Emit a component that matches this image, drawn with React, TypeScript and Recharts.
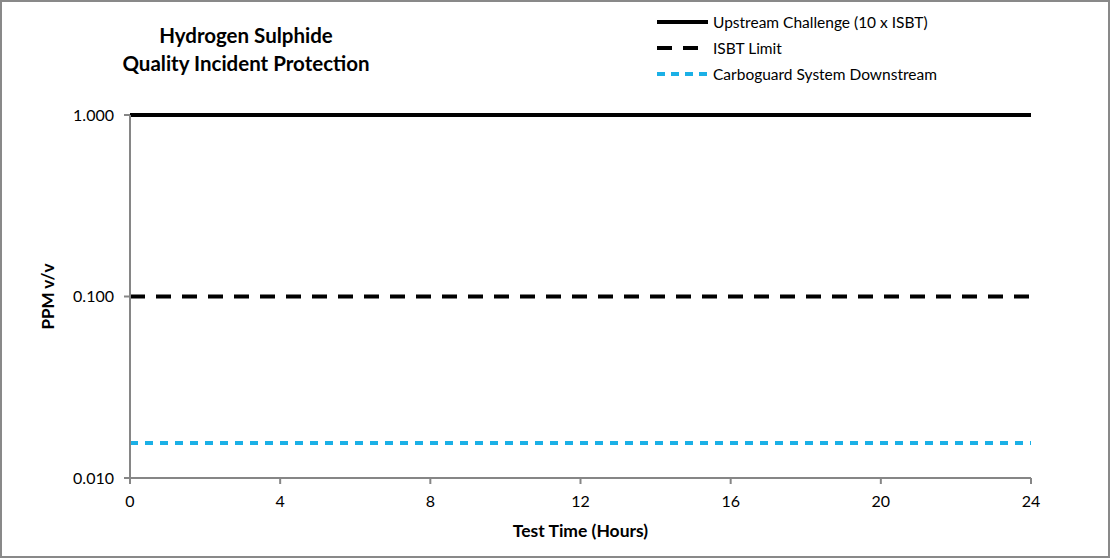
import React from "react";
import { LineChart, Line, XAxis, YAxis } from "recharts";

const hours = [0, 4, 8, 12, 16, 20, 24];
const upstream = [1, 1, 1, 1, 1, 1, 1];
const isbtLimit = [0.1, 0.1, 0.1, 0.1, 0.1, 0.1, 0.1];
const downstream = [0.0156, 0.0156, 0.0156, 0.0156, 0.0156, 0.0156, 0.0156];
const xTicks = [0, 4, 8, 12, 16, 20, 24];
const yTicks = [0.01, 0.1, 1];
const titleLines = ["Hydrogen Sulphide", "Quality Incident Protection"];
const xTitle = "Test Time (Hours)";
const yTitle = "PPM v/v";

const data = hours.map((h, i) => ({
  h,
  up: upstream[i],
  isbt: isbtLimit[i],
  down: downstream[i],
}));

const FONT = "Lato, 'Open Sans', sans-serif";
const BLUE = "#1bb0e6";
const AXIS = "#868686";

const legendItems = [
  { label: "Upstream Challenge (10 x ISBT)", color: "#000", dash: undefined as string | undefined },
  { label: "ISBT Limit", color: "#000", dash: "15 11" },
  { label: "Carboguard System Downstream", color: BLUE, dash: "8 6" },
];

const LegendBox = () => (
  <div style={{ position: "absolute", left: 657, top: 9, width: 340, height: 80 }}>
    {legendItems.map((it, i) => (
      <div key={it.label} style={{ position: "absolute", left: 0, top: i * 26, height: 26, display: "flex", alignItems: "center" }}>
        <svg width={56} height={26} style={{ display: "block" }}>
          <line x1={0} x2={51} y1={13} y2={13} stroke={it.color} strokeWidth={4} strokeDasharray={it.dash} />
        </svg>
        <span style={{ fontFamily: FONT, fontSize: 15.5, color: "#000", whiteSpace: "nowrap" }}>{it.label}</span>
      </div>
    ))}
  </div>
);

const YTitle = (props: any) => {
  const vb = props.viewBox || { x: 130, y: 115, width: 0, height: 363 };
  const cx = 47;
  const cy = vb.y + vb.height / 2;
  return (
    <text x={cx} y={cy} transform={`rotate(-90 ${cx} ${cy})`} textAnchor="middle" dominantBaseline="central" fontFamily={FONT} fontSize={17} fontWeight={700} fill="#000">
      {yTitle}
    </text>
  );
};

const XTitle = (props: any) => {
  const vb = props.viewBox || { x: 130, y: 478, width: 901, height: 80 };
  const cx = vb.x + vb.width / 2;
  return (
    <text x={cx} y={530} textAnchor="middle" dominantBaseline="central" fontFamily={FONT} fontSize={17.5} fontWeight={700} fill="#000">
      {xTitle}
    </text>
  );
};

export default function App() {
  return (
    <div style={{ position: "absolute", left: 0, top: 0, width: 1110, height: 558, background: "#fff" }}>
      <LineChart width={1110} height={558} data={data} margin={{ top: 115, right: 79, bottom: 0, left: 0 }}>
        <XAxis
          dataKey="h"
          type="number"
          domain={[0, 24]}
          ticks={xTicks}
          height={80}
          stroke={AXIS}
          strokeWidth={2}
          tickSize={6}
          tickMargin={12}
          tick={{ fill: "#000", fontSize: 16, fontFamily: FONT }}
          tickLine={{ stroke: AXIS, strokeWidth: 2 }}
          label={<XTitle />}
        />
        <YAxis
          type="number"
          scale="log"
          domain={[0.01, 1]}
          ticks={yTicks}
          width={130}
          stroke={AXIS}
          strokeWidth={2}
          tickSize={6}
          tickMargin={10}
          tick={{ fill: "#000", fontSize: 16, fontFamily: FONT }}
          tickLine={{ stroke: AXIS, strokeWidth: 2 }}
          tickFormatter={(v: number) => v.toFixed(3)}
          label={<YTitle />}
        />
        <Line dataKey="up" name="Upstream Challenge (10 x ISBT)" stroke="#000" strokeWidth={4} dot={false} isAnimationActive={false} />
        <Line dataKey="isbt" name="ISBT Limit" stroke="#000" strokeWidth={4} strokeDasharray="15 11" dot={false} isAnimationActive={false} />
        <Line dataKey="down" name="Carboguard System Downstream" stroke={BLUE} strokeWidth={4} strokeDasharray="8 7" dot={false} isAnimationActive={false} />
      </LineChart>
      <LegendBox />
      <div style={{ position: "absolute", left: 96, top: 22, width: 300, textAlign: "center", fontFamily: FONT, fontWeight: 700, fontSize: 20.5, lineHeight: "27.5px", color: "#000" }}>
        {titleLines.map((t) => (
          <div key={t}>{t}</div>
        ))}
      </div>
      <div style={{ position: "absolute", left: 0, top: 0, width: 1110, height: 558, boxSizing: "border-box", border: "2px solid #898989", pointerEvents: "none" }} />
    </div>
  );
}
